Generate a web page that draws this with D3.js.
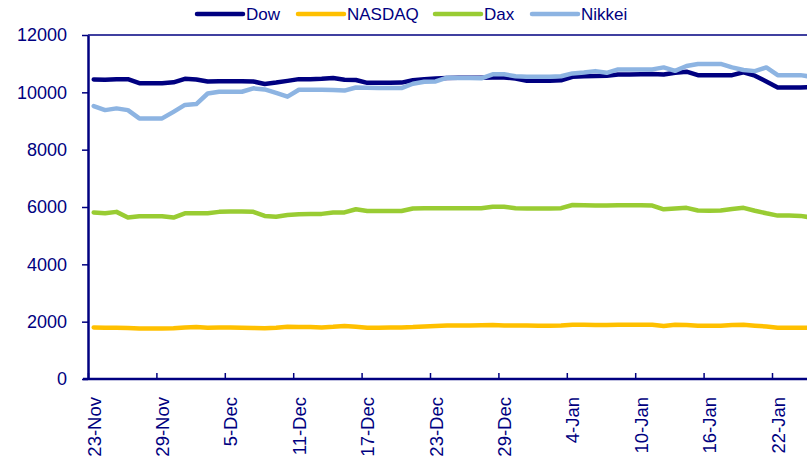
<!DOCTYPE html>
<html lang="en">
  <head>
    <title>Indices</title>
    <meta charset="UTF-8">
    <script src="https://d3js.org/d3.v7.min.js"></script>
    <style>
      * {
        margin: 0;
        padding: 0;
      }
      body {
        background-color: white;
        overflow: hidden;
      }
      svg {
        display: block;
        font-family: 'Liberation Sans', Arial, sans-serif;
      }
    </style>
  </head>
  <body>
    <script>
      // daily values, 23-Nov to 25-Jan
      const startDate = new Date(2009, 10, 23)
      const dow = [10450, 10440, 10460, 10460, 10320, 10320, 10320, 10350, 10470, 10450,
                   10380, 10390, 10390, 10390, 10380, 10290, 10340, 10400, 10460, 10460,
                   10470, 10500, 10440, 10430, 10330, 10330, 10330, 10340, 10420, 10460,
                   10480, 10500, 10510, 10510, 10510, 10520, 10520, 10480, 10400, 10400,
                   10400, 10420, 10540, 10560, 10570, 10580, 10620, 10620, 10630, 10640,
                   10620, 10680, 10720, 10600, 10600, 10600, 10600, 10700, 10580, 10380,
                   10170, 10170, 10170, 10180]
      const nasdaq = [1800, 1790, 1790, 1780, 1760, 1760, 1760, 1770, 1800, 1810,
                      1790, 1800, 1800, 1790, 1780, 1770, 1790, 1820, 1810, 1810,
                      1800, 1820, 1850, 1820, 1790, 1790, 1800, 1800, 1810, 1830,
                      1850, 1870, 1870, 1870, 1875, 1880, 1870, 1870, 1865, 1860,
                      1860, 1870, 1895, 1890, 1880, 1880, 1890, 1890, 1890, 1890,
                      1850, 1890, 1880, 1860, 1860, 1860, 1880, 1890, 1860, 1830,
                      1790, 1790, 1790, 1790]
      const dax = [5810, 5780, 5830, 5630, 5680, 5680, 5680, 5630, 5780, 5780,
                   5780, 5830, 5840, 5840, 5830, 5690, 5660, 5720, 5750, 5760,
                   5760, 5810, 5810, 5920, 5860, 5860, 5860, 5860, 5950, 5960,
                   5960, 5960, 5960, 5960, 5960, 6010, 6010, 5960, 5950, 5950,
                   5950, 5960, 6070, 6060, 6050, 6050, 6060, 6060, 6060, 6050,
                   5920, 5950, 5970, 5880, 5870, 5880, 5930, 5970, 5870, 5780,
                   5700, 5700, 5690, 5630]
      const nikkei = [9520, 9380, 9440, 9380, 9090, 9090, 9090, 9320, 9560, 9590,
                      9960, 10020, 10020, 10020, 10140, 10100, 9980, 9850, 10090, 10090,
                      10090, 10080, 10060, 10170, 10160, 10150, 10150, 10150, 10300, 10370,
                      10380, 10510, 10500, 10500, 10490, 10630, 10630, 10560, 10540, 10540,
                      10540, 10560, 10660, 10690, 10740, 10680, 10800, 10800, 10800, 10800,
                      10870, 10750, 10920, 10990, 10990, 10990, 10870, 10780, 10740, 10870,
                      10600, 10600, 10600, 10540]
      const seriesNames = ["Dow", "NASDAQ", "Dax", "Nikkei"]
      const seriesColors = ["#000080", "#FFC000", "#99CC33", "#8DB4E2"]
      const tickLabels = ["23-Nov", "29-Nov", "5-Dec", "11-Dec", "17-Dec", "23-Dec",
                          "29-Dec", "4-Jan", "10-Jan", "16-Jan", "22-Jan"]
      const yTicks = [0, 2000, 4000, 6000, 8000, 10000, 12000]

      const width = 807
      const height = 461
      const marginLeft = 88
      const plotTop = 35
      const plotBottom = 379
      const dayWidth = 11.4
      const navy = "#000080"

      const series = [dow, nasdaq, dax, nikkei]
      const dates = dow.map((d, i) => d3.timeDay.offset(startDate, i))
      const endDate = d3.timeDay.offset(startDate, dow.length)

      const xScale = d3.scaleTime()
                       .domain([startDate, endDate])
                       .range([marginLeft, marginLeft + dow.length * dayWidth])
      const yScale = d3.scaleLinear()
                       .domain([0, 12000])
                       .range([plotBottom, plotTop])

      const svg = d3.select("body")
                    .append("svg")
                    .attr("width", width)
                    .attr("height", height)

      // top border of plot area
      svg.append("line")
         .attr("x1", marginLeft)
         .attr("x2", width)
         .attr("y1", yScale(12000))
         .attr("y2", yScale(12000))
         .attr("stroke", navy)
         .attr("stroke-width", 1.5)

      const tickDates = tickLabels.map((t, i) => d3.timeDay.offset(startDate, i * 6))
      const xAxis = d3.axisBottom(xScale)
                      .tickValues(tickDates)
                      .tickSizeInner(-6)
                      .tickSizeOuter(0)
                      .tickFormat((d, i) => tickLabels[i])

      const gx = svg.append("g")
                    .attr("transform", "translate(0," + plotBottom + ")")
                    .call(xAxis)
      gx.select(".domain").attr("stroke", navy).attr("stroke-width", 2.5)
        .attr("d", "M" + (marginLeft - 5) + ",0H" + (width + 10))
      gx.selectAll(".tick line").attr("stroke", navy).attr("stroke-width", 1.5)
      gx.selectAll(".tick text")
        .attr("fill", navy)
        .attr("font-size", 18.5)
        .attr("font-family", "'Liberation Sans', Arial, sans-serif")
        .attr("text-anchor", "end")
        .attr("x", -18)
        .attr("y", 0)
        .attr("dy", "0.35em")
        .attr("transform", "translate(" + dayWidth / 2 + ",0) rotate(-90)")

      const yAxis = d3.axisLeft(yScale)
                      .tickValues(yTicks)
                      .tickSizeInner(6)
                      .tickSizeOuter(0)
                      .tickPadding(15)
                      .tickFormat(d3.format("d"))
      const gy = svg.append("g")
                    .attr("transform", "translate(" + marginLeft + ",0)")
                    .call(yAxis)
      gy.select(".domain").attr("stroke", navy).attr("stroke-width", 2.5)
      gy.selectAll(".tick line").attr("stroke", navy).attr("stroke-width", 1.5)
      gy.selectAll(".tick text")
        .attr("fill", navy)
        .attr("font-size", 18)
        .attr("font-family", "'Liberation Sans', Arial, sans-serif")

      const line = d3.line()
                     .x((d, i) => xScale(d3.timeHour.offset(dates[i], 12)))
                     .y((d) => yScale(d))

      svg.selectAll("path.series")
         .data(series)
         .enter()
         .append("path")
         .attr("class", "series")
         .attr("d", line)
         .attr("fill", "none")
         .attr("stroke", (d, i) => seriesColors[i])
         .attr("stroke-width", 4.5)
         .attr("stroke-linejoin", "round")
         .attr("stroke-linecap", "round")

      // legend
      const legendX = [197, 298, 435, 532]
      const legend = svg.selectAll("g.legend")
                        .data(seriesNames)
                        .enter()
                        .append("g")
                        .attr("class", "legend")
                        .attr("transform", (d, i) => "translate(" + legendX[i] + ",14)")
      legend.append("line")
            .attr("x1", 0)
            .attr("x2", 46)
            .attr("stroke", (d, i) => seriesColors[i])
            .attr("stroke-width", 4.5)
            .attr("stroke-linecap", "round")
      legend.append("text")
            .text((d) => d)
            .attr("x", 49)
            .attr("dy", "0.35em")
            .attr("fill", navy)
            .attr("font-size", 17)
    </script>
  </body>
</html>
